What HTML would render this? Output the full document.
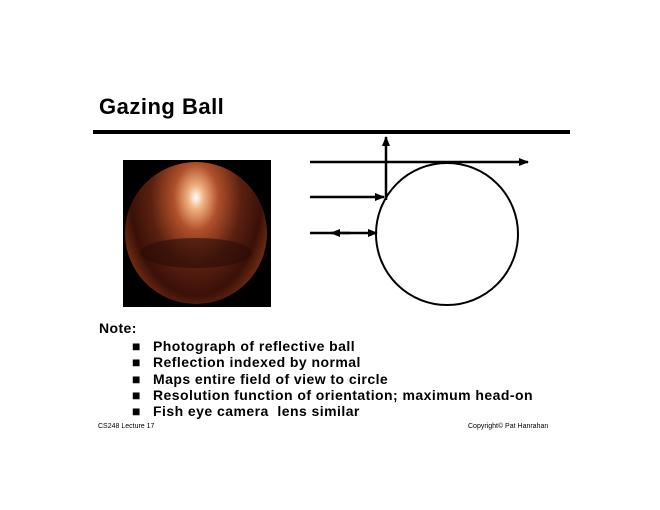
<!DOCTYPE html>
<html><head><style>
body{margin:0;width:660px;height:510px;background:#fff;position:relative;overflow:hidden;font-family:"Liberation Sans",sans-serif;}
.t{position:absolute;white-space:nowrap;color:#000;font-weight:bold;}
</style></head><body>
<div class="t" style="left:99px;top:94px;font-size:22px;letter-spacing:0.5px">Gazing Ball</div>
<div style="position:absolute;left:93px;top:130px;width:477px;height:4px;background:#000"></div>
<div style="position:absolute;left:123px;top:160px;width:148px;height:147px;background:#000"></div>
<div style="position:absolute;left:125px;top:162px;width:142px;height:142px;border-radius:50%;background:radial-gradient(ellipse at 50% 25%,#fff 0,#f0b080 8%,#b0502a 22%,#5a2010 45%,#3a1008 65%,#8a3a18 85%,#200 100%)"></div>
<div style="position:absolute;left:140px;top:238px;width:112px;height:30px;background:#2a0c06;opacity:0.6;border-radius:50%"></div>
<svg width="660" height="510" style="position:absolute;left:0;top:0">
<defs><marker id="a" markerWidth="10" markerHeight="8" refX="9" refY="4" orient="auto" markerUnits="userSpaceOnUse"><path d="M0,0L10,4L0,8z"/></marker></defs>
<circle cx="447" cy="234" r="71" fill="none" stroke="#000" stroke-width="2"/>
<g stroke="#000" stroke-width="2.5" fill="none">
<line x1="310" y1="162" x2="528" y2="162" marker-end="url(#a)"/>
<line x1="386" y1="200" x2="386" y2="137" marker-end="url(#a)"/>
<line x1="310" y1="197" x2="384" y2="197" marker-end="url(#a)"/>
<line x1="310" y1="233" x2="377" y2="233" marker-end="url(#a)"/>
<line x1="350" y1="233" x2="331" y2="233" marker-end="url(#a)"/>
</g>
</svg>
<div class="t" style="left:99px;top:320px;font-size:14px;letter-spacing:0.4px">Note:</div>
<div class="t" style="left:132px;top:338px;font-size:14px;line-height:16.3px;">■<br>■<br>■<br>■<br>■</div>
<div class="t" style="left:153px;top:338px;font-size:14px;line-height:16.3px;letter-spacing:0.45px">Photograph of reflective ball<br>Reflection indexed by normal<br>Maps entire field of view to circle<br>Resolution function of orientation; maximum head-on<br>Fish eye camera&nbsp; lens similar</div>
<div class="t" style="left:98px;top:423px;font-size:7px;font-weight:normal">CS248 Lecture 17</div>
<div class="t" style="left:468px;top:423px;font-size:7px;font-weight:normal">Copyright© Pat Hanrahan</div>
</body></html>
